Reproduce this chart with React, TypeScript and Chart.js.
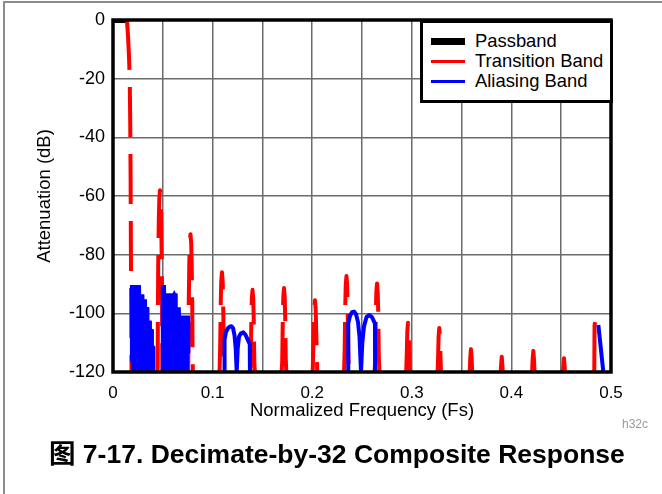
import React, { useEffect, useRef } from 'react';
import { Chart, registerables } from 'chart.js';

Chart.register(...registerables);

// ---------- data ----------
const xTickLabels = ['0', '0.1', '0.2', '0.3', '0.4', '0.5'];
const yTickLabels = ['-120', '-100', '-80', '-60', '-40', '-20', '0'];

const passbandX = [0, 0.014];
const passbandY = [0, 0];

// Transition band lobes (x in Fs, y in dB)
const transitionLobesX: number[][] = [
  [0.0140, 0.0150, 0.0160, 0.0168, 0.0173, 0.0177, 0.0180, 0.0183, 0.0186],
  [0.0448, 0.0451, 0.0454, 0.0460, 0.0465, 0.0472, 0.0479, 0.0484, 0.0490, 0.0493, 0.0496],
  [0.0754, 0.0757, 0.0760, 0.0766, 0.0771, 0.0778, 0.0785, 0.0790, 0.0796, 0.0799, 0.0802],
  [0.1070, 0.1076, 0.1082, 0.1087, 0.1094, 0.1101, 0.1106, 0.1112, 0.1118],
  [0.1377, 0.1383, 0.1389, 0.1394, 0.1401, 0.1408, 0.1413, 0.1419, 0.1425],
  [0.1693, 0.1699, 0.1705, 0.1710, 0.1717, 0.1724, 0.1729, 0.1735, 0.1741],
  [0.2005, 0.2016, 0.2021, 0.2028, 0.2035, 0.2040, 0.2051],
  [0.2320, 0.2326, 0.2332, 0.2337, 0.2344, 0.2351, 0.2356, 0.2362, 0.2368],
  [0.2627, 0.2633, 0.2639, 0.2644, 0.2651, 0.2658, 0.2663, 0.2669, 0.2675],
  [0.2944, 0.2950, 0.2955, 0.2962, 0.2969, 0.2974, 0.2980],
  [0.3259, 0.3264, 0.3269, 0.3276, 0.3283, 0.3288, 0.3293],
  [0.3582, 0.3587, 0.3594, 0.3601, 0.3606],
  [0.3893, 0.3896, 0.3903, 0.3910, 0.3913],
  [0.4208, 0.4213, 0.4220, 0.4227, 0.4232],
  [0.4518, 0.4521, 0.4528, 0.4535, 0.4538],
  [0.4832, 0.4835, 0.4845, 0.4855, 0.4865, 0.4873],
];
const transitionLobesY: number[][] = [
  [0, -5, -12, -20, -35, -55, -80, -100, -120],
  [-120, -98, -83, -68, -61, -58, -61, -68, -83, -98, -120],
  [-120, -113, -98, -83, -76, -73, -76, -83, -98, -113, -120],
  [-120, -111, -96, -89, -86, -89, -96, -111, -120],
  [-120, -117, -102, -95, -92, -95, -102, -117, -120],
  [-120, -116.4, -101.4, -94.4, -91.4, -94.4, -101.4, -116.4, -120],
  [-120, -105.5, -98.5, -95.5, -98.5, -105.5, -120],
  [-120, -112.3, -97.3, -90.3, -87.3, -90.3, -97.3, -112.3, -120],
  [-120, -114.8, -99.8, -92.8, -89.8, -92.8, -99.8, -114.8, -120],
  [-120, -113.2, -106.2, -103.2, -106.2, -113.2, -120],
  [-120, -115, -108, -105, -108, -115, -120],
  [-120, -115.2, -112.2, -115.2, -120],
  [-120, -117.8, -114.8, -117.8, -120],
  [-120, -115.8, -112.8, -115.8, -120],
  [-120, -118.3, -115.3, -118.3, -120],
  [-120, -104, -102.3, -101.5, -102.3, -104],
];

// Aliasing band: arches (lines)
const aliasArchesX: number[][] = [
  [0.1118, 0.1120, 0.1135, 0.1155, 0.1175, 0.1190, 0.1205, 0.1220, 0.1232, 0.1242,
   0.1252, 0.1265, 0.1285, 0.1308, 0.1330, 0.1350, 0.1373, 0.1375],
  [0.2360, 0.2362, 0.2380, 0.2400, 0.2420, 0.2440, 0.2460, 0.2475, 0.2490,
   0.2503, 0.2520, 0.2545, 0.2573, 0.2600, 0.2620, 0.2630, 0.2632],
  [0.4873, 0.4898, 0.4923],
];
const aliasArchesY: number[][] = [
  [-120, -109, -106.3, -105, -104.5, -104.4, -105, -107.5, -112, -120,
   -112, -108, -106.8, -106.5, -107.3, -108.8, -110.5, -120],
  [-120, -103.4, -100.8, -99.6, -99.4, -100.3, -103, -108, -120,
   -110, -104.5, -101.3, -100.6, -101.3, -102.7, -103.4, -120],
  [-104, -112, -120],
];

// Aliasing band: dense regions (upper envelopes, filled down to the axis)
const aliasRegion1X = [0.0178, 0.0180, 0.0271, 0.0273, 0.0304, 0.0306, 0.0331, 0.0333, 0.0354, 0.0356,
  0.0379, 0.0381, 0.0399, 0.0401, 0.0413, 0.0415];
const aliasRegion1Y = [-116.5, -90.7, -90.7, -93.8, -93.8, -95.5, -95.5, -98.2, -98.2, -102.8,
  -102.8, -105.7, -105.7, -111.4, -111.4, -120];
const aliasRegion2X = [0.0489, 0.0490, 0.0522, 0.0524, 0.0605, 0.0615, 0.0625, 0.0638, 0.0640, 0.0671,
  0.0673, 0.0764, 0.0766];
const aliasRegion2Y = [-120, -90.7, -90.7, -93.5, -93.5, -92.8, -93.5, -93.5, -98.3, -98.3,
  -101.1, -101.1, -113.6];

// ---------- helpers ----------
const pts = (xs: number[], ys: number[]) => xs.map((x, i) => ({ x, y: ys[i] }));
const joinLobes = (xs: number[][], ys: number[][]) => {
  const out: { x: number; y: number | null }[] = [];
  xs.forEach((lx, k) => {
    if (k > 0) out.push({ x: lx[0], y: null });
    lx.forEach((x, i) => out.push({ x, y: ys[k][i] }));
  });
  return out;
};

const FONT = '"Liberation Sans", Arial, Helvetica, sans-serif';

const framePlugin = {
  id: 'frame',
  afterDatasetsDraw(chart: any) {
    const { ctx, chartArea } = chart;
    ctx.save();
    ctx.strokeStyle = '#000';
    ctx.lineWidth = 3.5;
    ctx.strokeRect(chartArea.left, chartArea.top, chartArea.right - chartArea.left, chartArea.bottom - chartArea.top);
    ctx.restore();
  },
};

export default function App() {
  const ref = useRef<HTMLCanvasElement>(null);

  useEffect(() => {
    if (!ref.current) return;
    const common = { pointRadius: 0, pointHoverRadius: 0, tension: 0, spanGaps: false };
    const region = { borderColor: '#0000ff', backgroundColor: '#0000ff', borderWidth: 2, fill: 'start', ...common };
    const chart = new Chart(ref.current, {
      type: 'line',
      data: {
        datasets: [
          {
            label: 'Aliasing Band',
            data: joinLobes(aliasArchesX, aliasArchesY),
            borderColor: '#0000ff',
            borderWidth: 4,
            borderJoinStyle: 'round',
            fill: false,
            ...common,
          } as any,
          { label: 'Aliasing Region 1', data: pts(aliasRegion1X, aliasRegion1Y), ...region } as any,
          { label: 'Aliasing Region 2', data: pts(aliasRegion2X, aliasRegion2Y), ...region } as any,
          {
            label: 'Transition Band',
            data: joinLobes(transitionLobesX, transitionLobesY),
            borderColor: '#ff0000',
            borderWidth: 4,
            borderDash: [50, 17],
            borderCapStyle: 'butt',
            borderJoinStyle: 'round',
            fill: false,
            ...common,
          } as any,
          {
            label: 'Passband',
            data: pts(passbandX, passbandY),
            borderColor: '#000000',
            borderWidth: 6,
            fill: false,
            ...common,
          } as any,
        ],
      },
      options: {
        responsive: false,
        animation: false,
        devicePixelRatio: 1,
        layout: { padding: { left: 0, top: 20, right: 51, bottom: 18 } },
        plugins: { legend: { display: false }, tooltip: { enabled: false } },
        events: [],
        scales: {
          x: {
            type: 'linear',
            min: 0,
            max: 0.5,
            afterFit: (s: any) => { s.height = 50; },
            ticks: {
              stepSize: 0.05,
              autoSkip: false,
              maxRotation: 0,
              padding: 11,
              color: '#000',
              font: { family: FONT, size: 17 },
              callback: (_v: any, i: number) => (i % 2 === 0 ? xTickLabels[i / 2] : ''),
            },
            grid: { color: '#6b6b6b', lineWidth: 1.5, drawTicks: false },
            border: { display: false },
            title: {
              display: true,
              text: 'Normalized Frequency (Fs)',
              color: '#000',
              font: { family: FONT, size: 18.5 },
              padding: { top: 0, bottom: 0 },
            },
          },
          y: {
            type: 'linear',
            min: -120,
            max: 0,
            afterFit: (s: any) => { s.width = 113; },
            ticks: {
              stepSize: 20,
              padding: 8,
              color: '#000',
              font: { family: FONT, size: 18 },
              callback: (_v: any, i: number) => yTickLabels[i],
            },
            grid: { color: '#6b6b6b', lineWidth: 1.5, drawTicks: false },
            border: { display: false },
            title: {
              display: true,
              text: 'Attenuation (dB)',
              color: '#000',
              font: { family: FONT, size: 18.5 },
              padding: { top: 34, bottom: 0 },
            },
          },
        },
      } as any,
      plugins: [framePlugin],
    });
    return () => chart.destroy();
  }, []);

  const legendItems = [
    { label: 'Passband', color: '#000000', top: 38, h: 7 },
    { label: 'Transition Band', color: '#ff0000', top: 60, h: 3 },
    { label: 'Aliasing Band', color: '#0000ff', top: 80, h: 3 },
  ];

  return (
    <div style={{ position: 'absolute', left: 0, top: 0, width: 662, height: 494, overflow: 'hidden', background: '#fff', fontFamily: FONT }}>
      <div style={{ position: 'absolute', left: 3, top: 1, width: 659, height: 493, borderTop: '2px solid #8c8c8c', borderLeft: '2px solid #8c8c8c', boxSizing: 'border-box' }} />
      <canvas ref={ref} width={662} height={440} style={{ position: 'absolute', left: 0, top: 0, width: 662, height: 440 }} />
      <div style={{ position: 'absolute', left: 420, top: 20, width: 193, height: 83, border: '3px solid #000', boxSizing: 'border-box', background: '#fff' }} />
      {legendItems.map((it, i) => (
        <React.Fragment key={it.label}>
          <div style={{ position: 'absolute', left: 431, top: it.top, width: 34, height: it.h, background: it.color }} />
          <div style={{ position: 'absolute', left: 475, top: 31 + i * 20, fontSize: 18.4, lineHeight: '20px', color: '#000', whiteSpace: 'nowrap' }}>{it.label}</div>
        </React.Fragment>
      ))}
      <div style={{ position: 'absolute', left: 622, top: 417, fontSize: 12, lineHeight: '14px', color: '#9a9a9a' }}>h32c</div>
      <div style={{ position: 'absolute', left: 49, top: 439, fontSize: 26.5, lineHeight: '30px', fontWeight: 'bold', color: '#000', whiteSpace: 'nowrap', fontFamily: '"Liberation Sans", "Noto Sans CJK SC", Arial, sans-serif' }}>
        图 7-17. Decimate-by-32 Composite Response
      </div>
    </div>
  );
}
